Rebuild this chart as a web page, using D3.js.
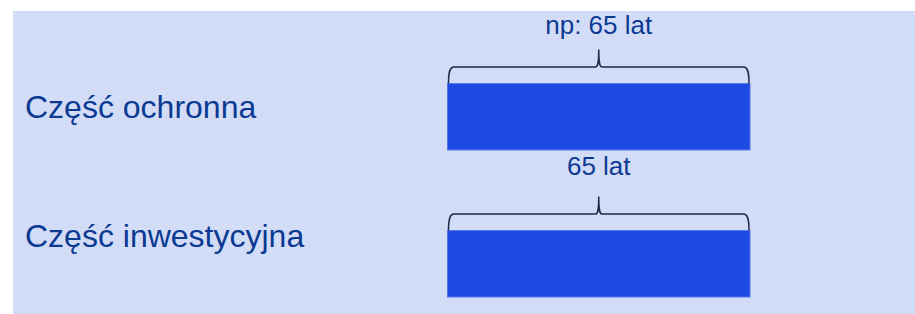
<!DOCTYPE html>
<html>
<head>
<meta charset="utf-8">
<script src="https://cdnjs.cloudflare.com/ajax/libs/d3/7.8.5/d3.min.js"></script>
<style>
  body { margin: 0; background: #ffffff; }
  text { font-family: "Liberation Sans", Arial, sans-serif; }
</style>
</head>
<body>
<div id="chart"></div>
<script>
// data
const categories = ["Część ochronna", "Część inwestycyjna"];
const years = [65, 65];
const braceLabels = ["np: 65 lat", "65 lat"];

// dimensions
const W = 915, H = 314;

const svg = d3.select("#chart")
    .append("svg")
    .attr("width", W)
    .attr("height", H);

// background panel
svg.append("rect")
    .attr("x", 13)
    .attr("y", 11)
    .attr("width", W - 13)
    .attr("height", H - 11)
    .attr("fill", "#d3dcf7");

// scales
var xScale = d3.scaleLinear()
    .domain([0, 65])
    .range([447.5, 750]);

var yScale = d3.scaleBand()
    .domain(categories)
    .range([83.5, 297])
    .paddingInner(0.548)
    .paddingOuter(0);

// category labels on the left
svg.append("g")
    .selectAll("text")
    .data(categories)
    .enter().append("text")
    .attr("x", 25)
    .attr("y", d => yScale(d) + yScale.bandwidth() / 2 + (d === categories[0] ? 1 : -17))
    .attr("font-size", "32px")
    .attr("fill", "#0b3a92")
    .text(d => d);

// bars
svg.append("g")
    .selectAll("rect")
    .data(categories)
    .enter().append("rect")
    .attr("x", xScale(0))
    .attr("y", d => yScale(d))
    .attr("width", (d, i) => xScale(years[i]) - xScale(0))
    .attr("height", yScale.bandwidth())
    .attr("fill", "#1f4ae2")
    .attr("stroke", "#5577e8")
    .attr("stroke-width", 1);

// curly brace above a bar, from x0 to x1, bottom at y
function bracePath(x0, x1, y) {
    const h = 16.5, tip = 34, r = 3.5;
    const mid = (x0 + x1) / 2;
    const yl = y - h;
    return "M" + (x0 + 1) + "," + y +
        "C" + (x0 + 1) + "," + (yl + 6) + " " + (x0 + 2) + "," + yl + " " + (x0 + 1 + r + 2) + "," + yl +
        "L" + (mid - r) + "," + yl +
        "C" + (mid - 1) + "," + yl + " " + mid + "," + (yl - 3) + " " + mid + "," + (y - tip) +
        "C" + mid + "," + (yl - 3) + " " + (mid + 1) + "," + yl + " " + (mid + r) + "," + yl +
        "L" + (x1 - 1 - r - 2) + "," + yl +
        "C" + (x1 - 2) + "," + yl + " " + (x1 - 1) + "," + (yl + 6) + " " + (x1 - 1) + "," + y;
}

svg.append("g")
    .selectAll("path")
    .data(categories)
    .enter().append("path")
    .attr("d", (d, i) => bracePath(xScale(0), xScale(years[i]), yScale(d)))
    .attr("fill", "none")
    .attr("stroke", "#1b2a48")
    .attr("stroke-width", 1.5);

// labels above the braces
const labelGap = [49.5, 56];
svg.append("g")
    .selectAll("text")
    .data(categories)
    .enter().append("text")
    .attr("x", (d, i) => (xScale(0) + xScale(years[i])) / 2)
    .attr("y", (d, i) => yScale(d) - labelGap[i])
    .attr("text-anchor", "middle")
    .attr("font-size", "26px")
    .attr("fill", "#0b3a92")
    .text((d, i) => braceLabels[i]);
</script>
</body>
</html>
